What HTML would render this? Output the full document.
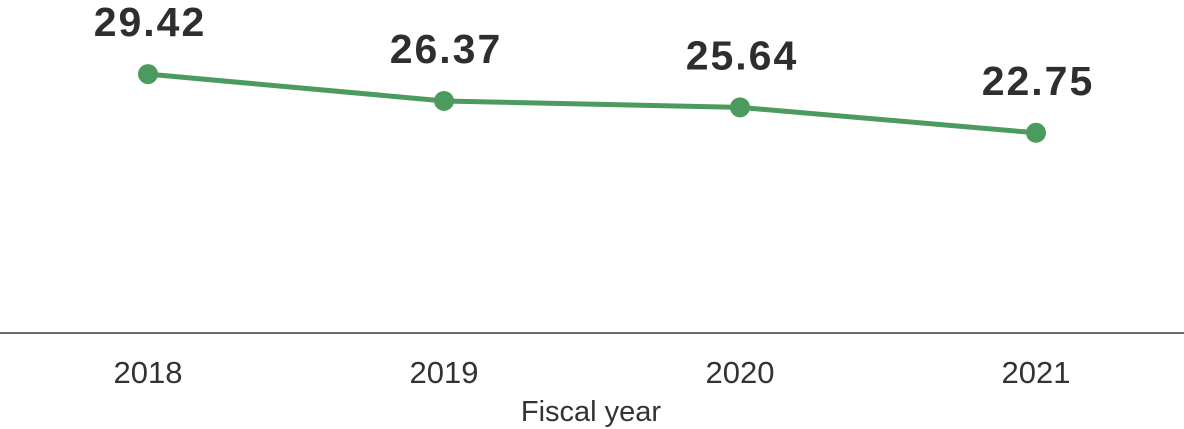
<!DOCTYPE html>
<html><head><meta charset="utf-8"><style>
html,body{margin:0;padding:0;background:#fff;}
svg{display:block;font-family:"Liberation Sans",sans-serif;}
</style></head><body>
<svg id="chart" width="1184" height="429" viewBox="0 0 1184 429">
<line x1="0" y1="333" x2="1184" y2="333" stroke="#6b6b6b" stroke-width="2"/>
<text x="591" y="421" text-anchor="middle" font-size="29" fill="#333">Fiscal year</text>
<g id="marks"></g>
</svg>
<script>
const categories = ["2018", "2019", "2020", "2021"];
const values = [29.42, 26.37, 25.64, 22.75];
const valueLabels = ["29.42", "26.37", "25.64", "22.75"];
const svg = document.getElementById('marks');
const NS = 'http://www.w3.org/2000/svg';
function xPos(i){ return 148 + i * 296; }
function yPos(v){ return 333 - v * 8.8; }
const pts = values.map((v,i)=>xPos(i)+','+yPos(v)).join(' ');
const line = document.createElementNS(NS,'polyline');


line.setAttribute('points', pts);
line.setAttribute('fill','none');
line.setAttribute('stroke','#4d9a5e');
line.setAttribute('stroke-width','5');
svg.appendChild(line);
values.forEach((v,i)=>{
  const c = document.createElementNS(NS,'circle');
  
  
  c.setAttribute('cx', xPos(i)); c.setAttribute('cy', yPos(v)); c.setAttribute('r', 10);
  c.setAttribute('fill','#4d9a5e');
  svg.appendChild(c);
  const t = document.createElementNS(NS,'text');
  
  
  t.setAttribute('x', xPos(i)+2); t.setAttribute('y', yPos(v)-38);
  t.setAttribute('text-anchor','middle');
  t.setAttribute('font-size','41'); t.setAttribute('font-weight','bold');
  t.setAttribute('letter-spacing','2'); t.setAttribute('fill','#2e2e2e');
  t.textContent = valueLabels[i];
  svg.appendChild(t);
  const xl = document.createElementNS(NS,'text');
  
  
  xl.setAttribute('x', xPos(i)); xl.setAttribute('y', 383);
  xl.setAttribute('text-anchor','middle'); xl.setAttribute('font-size','31');
  xl.setAttribute('fill','#333');
  xl.textContent = categories[i];
  svg.appendChild(xl);
});
</script>
</body></html>
